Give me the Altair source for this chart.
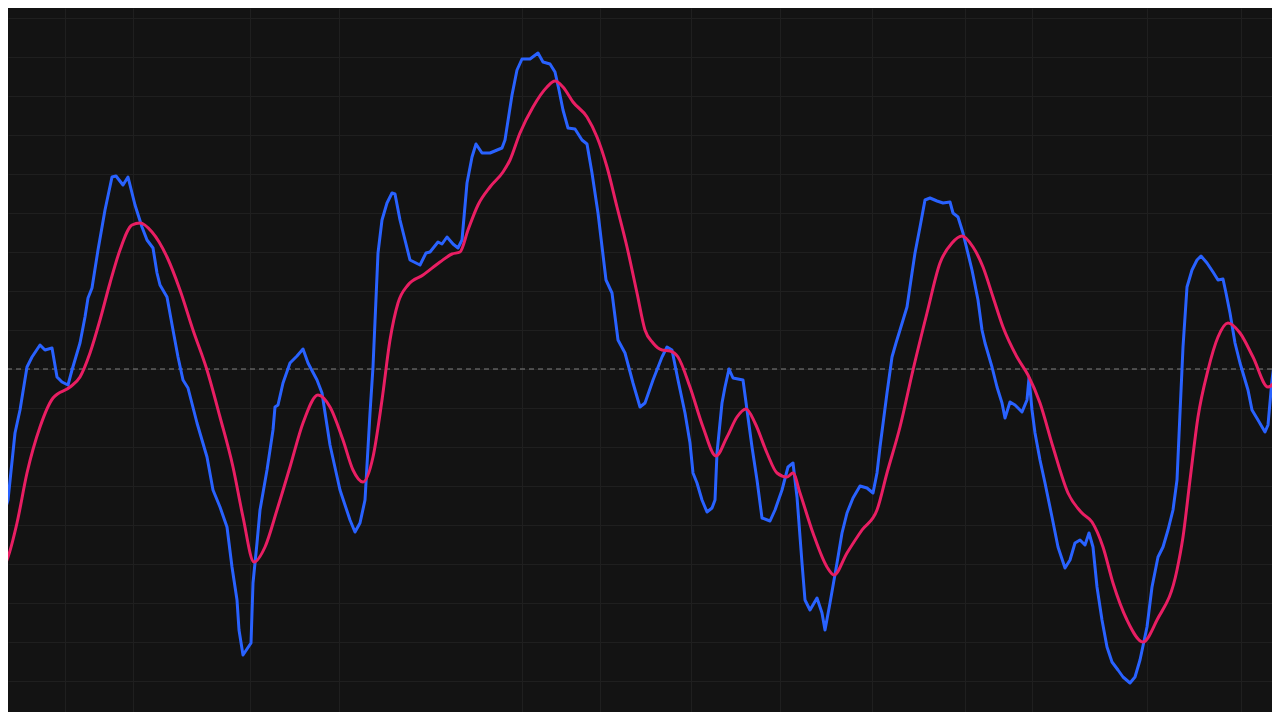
import altair as alt
import pandas as pd

# Fast line (blue): bar position, oscillator value (0 = dashed zero line)
blue_t = [0, 3, 8, 15, 20, 27, 32, 40, 45, 52, 57, 62, 68, 72, 80, 85, 88, 92, 98, 105,
          112, 116, 123, 128, 135, 142, 147, 153, 157, 160, 167, 173, 178, 183, 188, 197, 207, 213, 220, 227,
          232, 237, 239, 243, 251, 253, 257, 260, 267, 273, 275, 278, 283, 290, 297, 303, 308, 317, 322, 330,
          340, 350, 355, 360, 365, 370, 373, 378, 382, 387, 392, 395, 400, 405, 410, 420, 426, 430, 438, 442,
          447, 453, 458, 462, 467, 472, 476, 482, 490, 502, 505, 512, 517, 522, 530, 538, 543, 550, 555, 559,
          563, 568, 575, 582, 587, 592, 598, 606, 612, 618, 625, 633, 640, 645, 653, 662, 667, 672, 678, 685,
          690, 693, 697, 702, 707, 712, 715, 717, 722, 725, 729, 733, 743, 747, 752, 757, 762, 770, 775, 782,
          788, 793, 797, 802, 805, 810, 817, 822, 825, 830, 837, 842, 847, 853, 860, 867, 873, 877, 880, 887,
          892, 896, 900, 907, 912, 915, 920, 925, 930, 937, 943, 950, 953, 958, 963, 972, 978, 982, 985, 992,
          997, 1002, 1005, 1010, 1015, 1022, 1027, 1029, 1032, 1035, 1040, 1045, 1052, 1058, 1065, 1070, 1075, 1080, 1085, 1089,
          1093, 1097, 1102, 1107, 1112, 1118, 1123, 1130, 1135, 1140, 1147, 1152, 1158, 1163, 1168, 1173, 1177, 1180, 1183, 1187,
          1192, 1197, 1201, 1207, 1213, 1218, 1223, 1226, 1230, 1235, 1240, 1248, 1252, 1258, 1265, 1268, 1272, 1275, 1280]
blue_v = [-178, -148, -131, -64, -41, 2, 12, 24, 19, 21, -8, -13, -16, -1, 26, 52, 71, 81, 119, 159,
          192, 193, 184, 192, 164, 142, 129, 121, 96, 84, 72, 39, 12, -11, -19, -54, -88, -121, -138, -158,
          -198, -231, -261, -286, -274, -214, -174, -141, -101, -61, -38, -36, -14, 6, 13, 20, 6, -11, -24, -76,
          -121, -151, -163, -154, -131, -44, 2, 116, 149, 166, 176, 175, 149, 129, 109, 104, 116, 117, 127, 125,
          132, 125, 121, 129, 186, 212, 225, 216, 216, 221, 229, 274, 299, 310, 310, 316, 307, 305, 297, 279,
          259, 241, 240, 229, 225, 196, 156, 89, 76, 29, 16, -14, -38, -34, -11, 12, 22, 19, -11, -44,
          -74, -104, -114, -131, -143, -139, -131, -84, -34, -18, 0, -9, -11, -41, -78, -111, -149, -152, -141, -121,
          -98, -94, -128, -194, -231, -241, -229, -244, -261, -234, -194, -164, -144, -129, -117, -119, -124, -104, -78, -24,
          12, 26, 39, 62, 96, 116, 142, 169, 171, 168, 166, 167, 156, 152, 136, 99, 69, 39, 26, 2,
          -18, -34, -49, -33, -36, -43, -31, -9, -41, -64, -91, -114, -148, -178, -199, -191, -174, -171, -176, -164,
          -178, -218, -251, -278, -293, -301, -308, -314, -308, -291, -258, -218, -188, -178, -161, -141, -111, -44, 22, 82,
          99, 109, 113, 106, 97, 89, 90, 76, 56, 26, 6, -21, -41, -51, -63, -56, -11, 12, 42]

# Signal line (red)
red_t = [0, 7, 17, 27, 40, 53, 70, 80, 90, 100, 110, 120, 132, 140, 152, 167, 180, 193, 207, 220,
         233, 243, 254, 265, 277, 290, 303, 318, 330, 343, 353, 363, 373, 382, 390, 398, 408, 423, 440, 452,
         460, 468, 478, 490, 503, 510, 520, 533, 547, 555, 563, 573, 587, 597, 607, 617, 627, 637, 645, 653,
         662, 670, 678, 690, 703, 716, 727, 737, 746, 755, 767, 777, 787, 793, 800, 813, 827, 834, 847, 862,
         877, 887, 900, 913, 927, 940, 952, 962, 973, 983, 993, 1003, 1017, 1028, 1040, 1053, 1068, 1082, 1092, 1103,
         1113, 1127, 1143, 1157, 1177, 1183, 1190, 1198, 1208, 1218, 1228, 1240, 1253, 1268, 1280]
red_v = [-204, -191, -154, -104, -58, -29, -18, -8, 16, 49, 86, 119, 144, 146, 137, 112, 79, 39, -1, -48,
         -98, -148, -193, -178, -141, -98, -54, -26, -38, -71, -101, -113, -88, -31, 29, 66, 84, 94, 107, 115,
         117, 139, 164, 182, 197, 209, 236, 262, 282, 288, 282, 267, 252, 232, 202, 162, 122, 76, 39, 26,
         19, 18, 12, -18, -58, -87, -68, -48, -40, -54, -84, -104, -108, -104, -124, -164, -198, -206, -184, -161,
         -141, -104, -58, -1, 56, 106, 126, 133, 122, 102, 72, 42, 12, -6, -34, -78, -124, -144, -153, -178,
         -214, -251, -273, -251, -201, -168, -111, -48, -1, 32, 46, 36, 12, -18, -4]

# Faint grid positions
x_grid = [65, 133, 250, 339, 522, 600, 691, 780, 872, 965, 1032, 1147, 1241]
y_grid = [-312, -273, -234, -195, -156, -117, -78, -39, 0, 39, 78, 117, 156, 195, 234, 273, 312, 351]

BG = "#131313"
BLUE = "#2962FF"
RED = "#E91E63"

blue_df = pd.DataFrame({"t": blue_t, "v": blue_v})
red_df = pd.DataFrame({"t": red_t, "v": red_v})

xs = alt.Scale(domain=[8, 1272], nice=False, zero=False)
ys = alt.Scale(domain=[-343, 361], nice=False, zero=False)

x_axis = alt.Axis(values=x_grid, grid=True, labels=False, ticks=False, domain=False, title=None,
                  gridColor="#1f1f1f", gridWidth=1)
y_axis = alt.Axis(values=y_grid, grid=True, labels=False, ticks=False, domain=False, title=None,
                  gridColor="#1f1f1f", gridWidth=1)

blue = alt.Chart(blue_df).mark_line(color=BLUE, strokeWidth=3, clip=True, strokeJoin="round").encode(
    x=alt.X("t:Q", scale=xs, axis=x_axis),
    y=alt.Y("v:Q", scale=ys, axis=y_axis),
)

red = alt.Chart(red_df).mark_line(color=RED, strokeWidth=3, clip=True, interpolate="monotone").encode(
    x=alt.X("t:Q", scale=xs),
    y=alt.Y("v:Q", scale=ys),
)

zero = alt.Chart(pd.DataFrame({"z": [0]})).mark_rule(
    color="#8c8c8c", strokeWidth=1, strokeDash=[5, 4], opacity=0.9
).encode(y=alt.Y("z:Q", scale=ys))

chart = alt.layer(zero, blue, red).properties(
    width=1264, height=704, autosize="none", padding=0, background=BG
).configure_view(stroke=None, fill=BG)

chart.save("out.html", embed_options={"renderer": "svg", "actions": False})
